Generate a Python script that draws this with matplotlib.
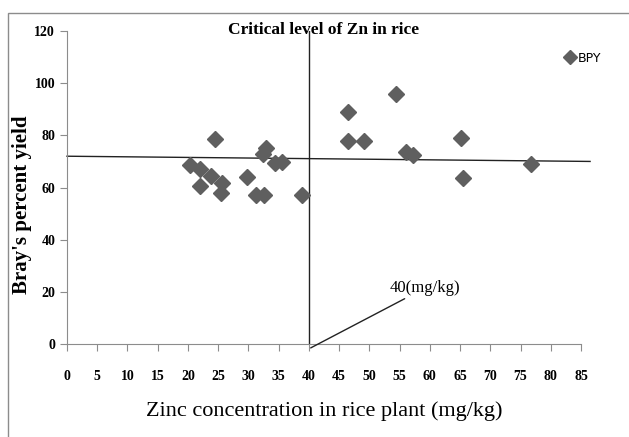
import numpy as np
import matplotlib.pyplot as plt
from matplotlib.patches import Rectangle

# Zn concentration (mg/kg) and Bray's percent yield
zn = [20.3, 22.0, 22.0, 23.8, 24.5, 25.6, 25.5, 29.8, 31.2, 32.4, 32.9, 32.6,
      34.4, 35.5, 38.8, 46.4, 46.4, 49.1, 54.4, 56.0, 57.2, 65.1, 65.5, 76.7]
bpy = [68.5, 67.0, 60.5, 64.4, 78.5, 61.7, 58.0, 64.0, 57.0, 72.8, 75.0, 57.0,
       69.3, 69.7, 57.0, 89.0, 77.8, 77.8, 95.8, 73.6, 72.4, 79.0, 63.6, 69.0]

critical = 40
mean_line_x = [0, 86.5]
mean_line_y = [72, 70]

xticks = np.arange(0, 90, 5)
yticks = np.arange(0, 140, 20)

serif = 'Liberation Serif'

fig = plt.figure(figsize=(6.29, 4.37), dpi=100)
ax = fig.add_axes([0.1065, 0.2128, 0.8172, 0.7162])

ax.plot(zn, bpy, 'D', color='#5f5f5f', markersize=8.5, label='BPY', zorder=3)
ax.plot(mean_line_x, mean_line_y, color='#222222', linewidth=1.0, clip_on=False)
ax.plot([critical, critical], [0, 120], color='#222222', linewidth=1.0)

ax.annotate('40(mg/kg)', xy=(40.3, -1.5), xytext=(53.4, 21.5),
            fontsize=12, family=serif, va='center', ha='left',
            arrowprops=dict(arrowstyle='-', color='#222222', lw=1.0,
                            shrinkA=0, shrinkB=0),
            annotation_clip=False)

ax.set_xlim(0, 85)
ax.set_ylim(0, 120)
ax.set_xticks(xticks)
ax.set_yticks(yticks)
for s in ['top', 'right']:
    ax.spines[s].set_visible(False)
for s in ['left', 'bottom']:
    ax.spines[s].set_color('#8c8c8c')
ax.tick_params(axis='both', colors='#8c8c8c', length=5, labelcolor='black')
ax.tick_params(axis='x', pad=14)
for lab in ax.get_xticklabels() + ax.get_yticklabels():
    lab.set_family(serif)
    lab.set_fontweight('bold')
    lab.set_fontsize(10)

ax.set_title('Critical level of Zn in rice', family=serif, fontweight='bold',
             fontsize=12.5, pad=-2, y=1.0)
ax.set_ylabel("Bray's percent yield", family=serif, fontweight='bold',
              fontsize=15)
ax.yaxis.set_label_coords(-0.068, 0.445)
ax.set_xlabel('Zinc concentration in rice plant (mg/kg)', family=serif,
              fontsize=16, labelpad=13)

leg = ax.legend(loc='upper left', bbox_to_anchor=(0.945, 0.97), frameon=False,
                handletextpad=0.1, handlelength=1.0, markerscale=0.8,
                prop={'size': 9})

fig.patches.append(Rectangle((8 / 629, -0.05), 1.2, 1 - 13 / 437 + 0.05,
                             transform=fig.transFigure, fill=False,
                             edgecolor='#8c8c8c', linewidth=1.0))

fig.savefig('out.png', dpi=100)
